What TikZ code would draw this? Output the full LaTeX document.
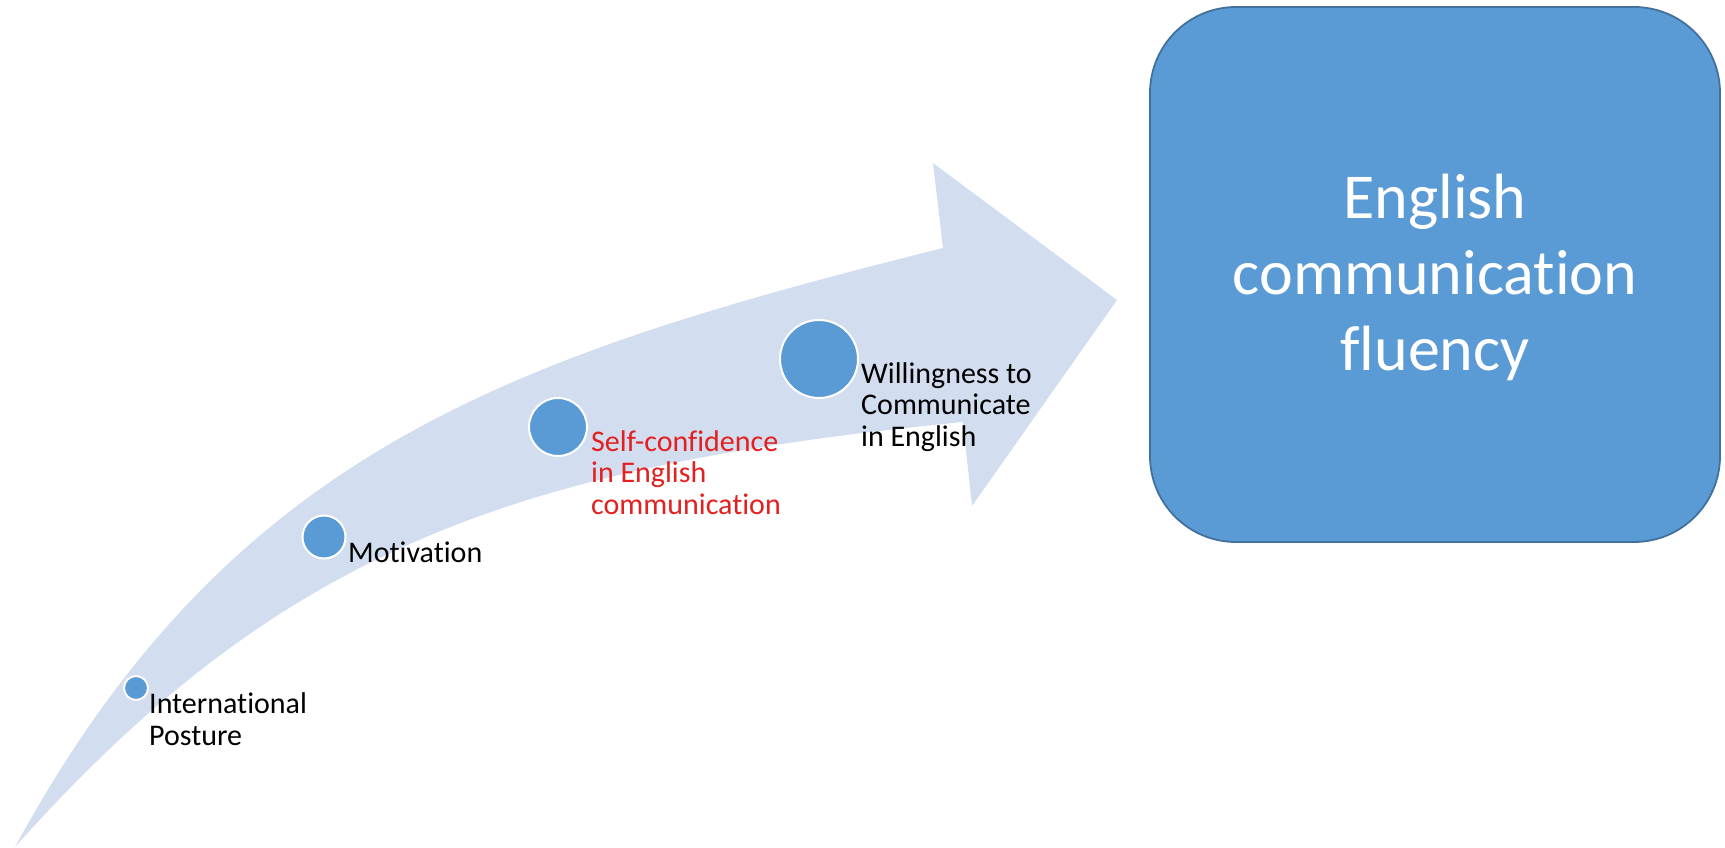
\documentclass[tikz,border=0pt]{standalone}
\usepackage{fontspec}
\setmainfont{Carlito}[Ligatures=NoCommon]
\definecolor{arrowfill}{HTML}{D2DEEF}
\definecolor{dotfill}{HTML}{5B9BD5}
\definecolor{boxfill}{HTML}{5B9BD5}
\definecolor{boxline}{HTML}{41719C}
\definecolor{redtext}{HTML}{E3201F}
\begin{document}
\begin{tikzpicture}[x=1pt,y=-1pt,
  dot/.style={circle, fill=dotfill, draw=white, line width=2pt, inner sep=0pt},
  lbl/.style={anchor=base west, inner sep=0pt, align=left, font=\fontsize{30}{31.5}\selectfont},
  bigbox/.style={draw=boxline, line width=1.8pt, fill=boxfill, rounded corners=86pt}]
\useasboundingbox (0,0) rectangle (1725,848);
% curved arrow
\fill[arrowfill] (15,847) .. controls (230,452) and (507,357) .. (943,248)
  -- (933,163) -- (1117,300) -- (972,506) -- (963,422)
  .. controls (515,466) and (281,549) .. (15,847) -- cycle;
% target box
\draw[bigbox] (1150,7) rectangle (1720,542);
\node[font=\fontsize{64}{76}\selectfont, text=white, align=center, inner sep=0pt] (goal) at (1435,277) {English\\communication\\fluency};
% dots
\node[dot, minimum size=24pt] (d1) at (136,688) {};
\node[dot, minimum size=43pt] (d2) at (324,537) {};
\node[dot, minimum size=58pt] (d3) at (558,427) {};
\node[dot, minimum size=78pt] (d4) at (819,359) {};
% labels (anchored at the baseline of the last line)
\node[lbl] (l1) at (149,745) {International\\Posture};
\node[lbl] (l2) at (348,562) {Motivation};
\node[lbl, text=redtext] (l3) at (591,514) {Self-confidence\\in English\\communication};
\node[lbl] (l4) at (861,446) {Willingness to\\Communicate\\in English};
\end{tikzpicture}
\end{document}
